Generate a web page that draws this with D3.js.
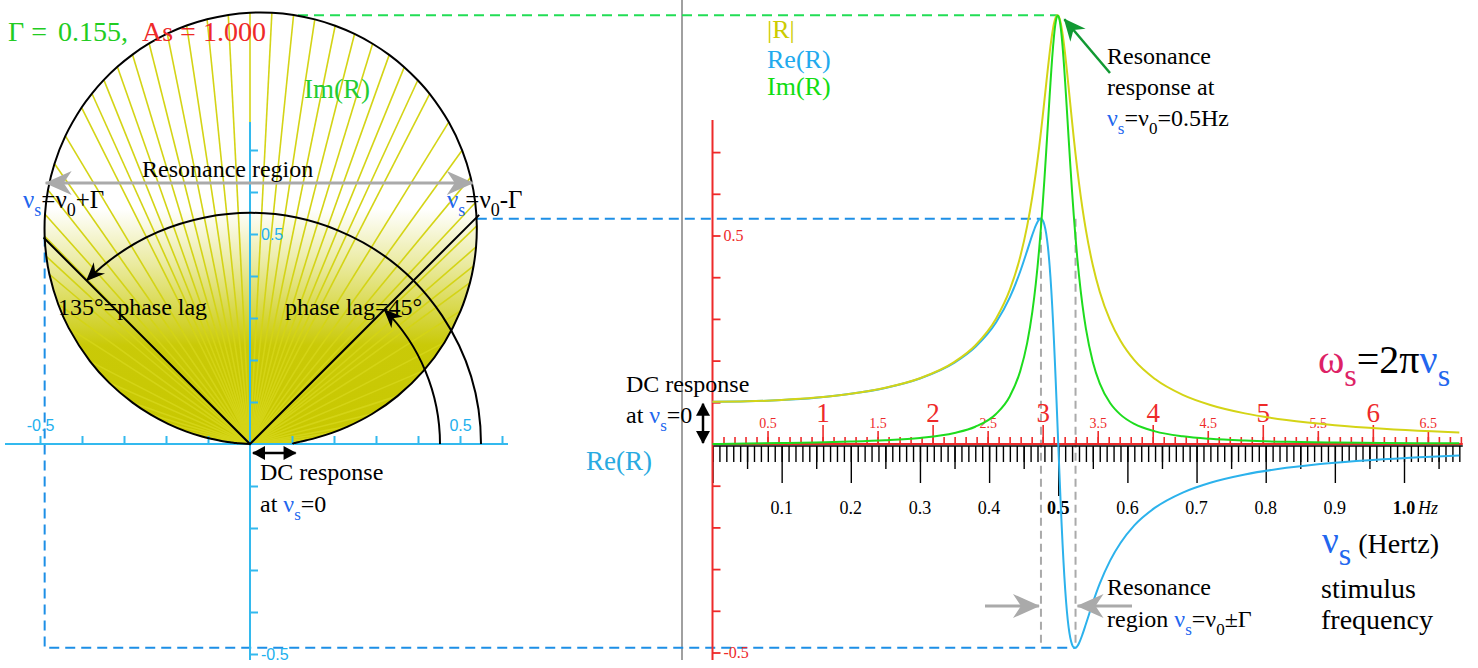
<!DOCTYPE html>
<html>
<head>
<meta charset="utf-8">
<script src="https://cdn.jsdelivr.net/npm/d3@7"></script>
<style>
  body { margin: 0; background: #fff; }
  svg { display: block; }
</style>
</head>
<body>
<svg width="1478" height="668"></svg>
<script>
// stimulus frequency (Hz) of each sample
const nu = [0, 0.05, 0.1, 0.15, 0.2, 0.25, 0.3, 0.35, 0.38, 0.41, 0.43, 0.445, 0.455,
  0.4625, 0.4675, 0.47, 0.4725, 0.475, 0.4775, 0.48, 0.4825, 0.485, 0.4875, 0.48875, 0.49,
  0.49125, 0.4925, 0.49375, 0.495, 0.49625, 0.4975, 0.49875, 0.5, 0.50125, 0.5025, 0.50375,
  0.505, 0.50625, 0.5075, 0.50875, 0.51, 0.51125, 0.5125, 0.515, 0.5175, 0.52, 0.5225,
  0.525, 0.5275, 0.53, 0.535, 0.54, 0.55, 0.56, 0.575, 0.59, 0.61, 0.64, 0.68, 0.72,
  0.77, 0.83, 0.9, 0.97, 1.04, 1.08];
// real part of the response
const reR = [0.1013, 0.1023, 0.1055, 0.1112, 0.1204, 0.1345, 0.1570, 0.1951, 0.2325, 0.2915,
  0.3517, 0.4136, 0.4631, 0.5014, 0.5238, 0.5324, 0.5382, 0.5400, 0.5363, 0.5254, 0.5051,
  0.4732, 0.4278, 0.3995, 0.3674, 0.3315, 0.2919, 0.2489, 0.2028, 0.1543, 0.1038, 0.0521,
  0, -0.0517, -0.1022, -0.1509, -0.1970, -0.2401, -0.2798, -0.3158, -0.3480, -0.3764,
  -0.4010, -0.4395, -0.4655, -0.4810, -0.4881, -0.4889, -0.4850, -0.4777, -0.4567, -0.4318,
  -0.3808, -0.3351, -0.2796, -0.2373, -0.1952, -0.1527, -0.1164, -0.0928, -0.0730, -0.0572,
  -0.0450, -0.0365, -0.0303, -0.0276];
// imaginary part of the response
const imR = [0, 0.0010, 0.0022, 0.0036, 0.0057, 0.0089, 0.0145, 0.0264, 0.0413, 0.0720,
  0.1146, 0.1747, 0.2419, 0.3170, 0.3842, 0.4243, 0.4691, 0.5192, 0.5745, 0.6348, 0.6993,
  0.7664, 0.8336, 0.8661, 0.8973, 0.9265, 0.9530, 0.9763, 0.9959, 1.0110, 1.0214, 1.0267,
  1.0268, 1.0216, 1.0114, 0.9963, 0.9769, 0.9537, 0.9272, 0.8981, 0.8670, 0.8345, 0.8011,
  0.7335, 0.6674, 0.6049, 0.5470, 0.4942, 0.4467, 0.4042, 0.3328, 0.2765, 0.1968, 0.1456,
  0.0984, 0.0704, 0.0480, 0.0302, 0.0184, 0.0123, 0.0081, 0.0053, 0.0036, 0.0025, 0.0019,
  0.0016];
// size |R| of the response
const absR = [0.1013, 0.1023, 0.1055, 0.1113, 0.1205, 0.1348, 0.1576, 0.1969, 0.2362, 0.3003,
  0.3700, 0.4490, 0.5224, 0.5932, 0.6496, 0.6808, 0.7140, 0.7491, 0.7859, 0.8240, 0.8626,
  0.9007, 0.9369, 0.9539, 0.9696, 0.9840, 0.9967, 1.0076, 1.0163, 1.0227, 1.0267, 1.0281,
  1.0268, 1.0229, 1.0165, 1.0077, 0.9966, 0.9834, 0.9685, 0.9520, 0.9342, 0.9154, 0.8958,
  0.8551, 0.8137, 0.7728, 0.7331, 0.6952, 0.6594, 0.6258, 0.5651, 0.5128, 0.4286, 0.3653,
  0.2964, 0.2475, 0.2010, 0.1557, 0.1178, 0.0936, 0.0734, 0.0575, 0.0451, 0.0366, 0.0304,
  0.0276];

// ticks and tick labels
const reTicks = [-0.5, -0.4, -0.3, -0.2, -0.1, 0.1, 0.2, 0.3, 0.4, 0.5, 0.6];
const imTicks = [-0.5, -0.4, -0.3, -0.2, -0.1, 0.1, 0.2, 0.3, 0.4, 0.5, 0.6, 0.7];
const valLabels = ["-0.5", "0.5"];
const omegaInt = [1, 2, 3, 4, 5, 6];
const omegaHalf = [0.5, 1.5, 2.5, 3.5, 4.5, 5.5, 6.5];
const nuMajor = [0.1, 0.2, 0.3, 0.4, 0.5, 0.6, 0.7, 0.8, 0.9, 1.0];
const nuLabels = ["0.1", "0.2", "0.3", "0.4", "0.5", "0.6", "0.7", "0.8", "0.9", "1.0"];

const svg = d3.select("svg");
const serif = '"Liberation Serif", "Times New Roman", serif';
const sans = '"Liberation Sans", Arial, sans-serif';
svg.attr("font-family", serif);

const cAxis = "#33b9ee", cDash = "#1d8fe6", cYel = "#d4d416", cBlue = "#2cb2ec",
  cGreen = "#1edc1e", cRed = "#ee2a2a", cNu = "#2266ee", cGrey = "#aaaaaa";

// scales: left = complex plane, right = response against frequency
const xL = d3.scaleLinear().domain([0, 1]).range([250, 670]);
const yL = d3.scaleLinear().domain([0, 1]).range([444, 24]);
const xR = d3.scaleLinear().domain([0, 1]).range([712.5, 1404]);
const xW = d3.scaleLinear().domain([0, 2 * Math.PI]).range([712.5, 1404]);
const yR = d3.scaleLinear().domain([0, 1]).range([444, 27]);

const iMax = d3.maxIndex(reR), iMin = d3.minIndex(reR), iPk = d3.maxIndex(absR);
const lab = d => valLabels[[-0.5, 0.5].indexOf(d)] || "";

// markers
const defs = svg.append("defs");
function marker(id, d, fill) {
  defs.append("marker").attr("id", id).attr("markerUnits", "userSpaceOnUse")
    .attr("viewBox", "-30 -15 32 30").attr("markerWidth", 32).attr("markerHeight", 30)
    .attr("refX", 0).attr("refY", 0).attr("orient", "auto-start-reverse")
    .append("path").attr("d", d).attr("fill", fill);
}
marker("barbK", "M1,0 L-18,-8 L-12,0 L-18,8 Z", "#000");
marker("triK", "M1,0 L-12,-7 L-12,7 Z", "#000");
marker("barbG", "M1,0 L-26,-12 L-18,0 L-26,12 Z", cGrey);
marker("barbGr", "M1,0 L-21,-10 L-14,0 L-21,10 Z", "#119933");

const grad = defs.append("linearGradient").attr("id", "fanFill")
  .attr("gradientUnits", "userSpaceOnUse")
  .attr("x1", 0).attr("y1", yL(0)).attr("x2", 0).attr("y2", yL(0.56));
[[0, 1], [0.42, 0.97], [0.78, 0.35], [1, 0]].forEach(([o, a]) =>
  grad.append("stop").attr("offset", o).attr("stop-color", "#c8c800").attr("stop-opacity", a));

// text with sub-scripts: parts = [text, colour, isSub, fontSize]
function rich(x, y, size, parts) {
  const t = svg.append("text").attr("x", x).attr("y", y).attr("font-size", size);
  let off = 0;
  parts.forEach(([s, col, sub, fs]) => {
    const want = sub ? Math.round(size * 0.33) : 0;
    const ts = t.append("tspan").text(s).attr("fill", col || "#000");
    if (want !== off) { ts.attr("dy", want - off); off = want; }
    if (fs || sub) ts.attr("font-size", fs || Math.round(size * 0.72));
  });
  return t;
}

// divider
svg.append("line").attr("x1", 682).attr("x2", 682).attr("y1", 0).attr("y2", 660)
  .attr("stroke", "#808080").attr("stroke-width", 1.5);

// ---- connecting dashed lines (under the fan) ----
svg.append("path")
  .attr("d", `M${xL(0)},${yR(absR[iPk])} H${xR(nu[iPk])}`)
  .attr("stroke", "#22dd55").attr("stroke-width", 2).attr("stroke-dasharray", "10,6").attr("fill", "none");
svg.append("path")
  .attr("d", `M${xL(reR[iMax])},${yR(reR[iMax])} H${xR(nu[iMax])}`)
  .attr("stroke", cDash).attr("stroke-width", 2).attr("stroke-dasharray", "10,6").attr("fill", "none");
svg.append("path")
  .attr("d", `M${xL(reR[iMin])},${yL(imR[iMin])} V${yR(reR[iMin])} H${xR(nu[iMin])}`)
  .attr("stroke", cDash).attr("stroke-width", 2).attr("stroke-dasharray", "10,6").attr("fill", "none");

// ---- left: fan of R in the complex plane ----
const idx = d3.range(nu.length);
const nyq = d3.line().x(i => i < 0 ? xL(0) : xL(reR[i])).y(i => i < 0 ? yL(0) : yL(imR[i]))
  .curve(d3.curveCatmullRom);
const nyqD = nyq(idx.concat([-1]));
svg.append("path").attr("d", nyqD + "Z").attr("fill", "#fff");
svg.append("path").attr("d", nyqD + "Z").attr("fill", "url(#fanFill)");
svg.append("g").selectAll("line").data(idx).join("line")
  .attr("x1", xL(0)).attr("y1", yL(0))
  .attr("x2", i => xL(reR[i])).attr("y2", i => yL(imR[i]))
  .attr("stroke", cYel).attr("stroke-width", 1.6);

// blue axes
svg.append("line").attr("x1", 5).attr("x2", 508).attr("y1", yL(0)).attr("y2", yL(0))
  .attr("stroke", cAxis).attr("stroke-width", 2);
svg.append("line").attr("x1", xL(0)).attr("x2", xL(0)).attr("y1", 122).attr("y2", 660)
  .attr("stroke", cAxis).attr("stroke-width", 2);
const gLx = svg.append("g").attr("transform", `translate(0,${yL(0)})`)
  .call(d3.axisTop(xL).tickValues(reTicks).tickSize(8).tickPadding(5).tickFormat(lab));
const gLy = svg.append("g").attr("transform", `translate(${xL(0)},0)`)
  .call(d3.axisRight(yL).tickValues(imTicks).tickSize(8).tickFormat(lab));
[gLx, gLy].forEach(g => {
  g.select(".domain").remove();
  g.attr("font-family", sans).attr("font-size", 16);
  g.selectAll("line").attr("stroke", cAxis).attr("stroke-width", 2);
  g.selectAll("text").attr("fill", "#22b0ee");
});

// outline and phase-lag construction
svg.append("path").attr("d", nyqD).attr("fill", "none").attr("stroke", "#000").attr("stroke-width", 2);
const r45 = absR[iMax] * Math.SQRT1_2 * 1.03, r135 = absR[iMin] * Math.SQRT1_2;
svg.append("path")
  .attr("d", `M${xL(r45)},${yL(r45)} L${xL(0)},${yL(0)} L${xL(-r135)},${yL(r135)}`)
  .attr("fill", "none").attr("stroke", "#000").attr("stroke-width", 2);
function arcD(r, a) {
  const p = d3.path();
  p.arc(xL(0), yL(0), r, 0, -a, true);
  return p.toString();
}
svg.append("path").attr("d", arcD(190, Math.PI / 4)).attr("fill", "none")
  .attr("stroke", "#000").attr("stroke-width", 2).attr("marker-end", "url(#barbK)");
svg.append("path").attr("d", arcD(231, 3 * Math.PI / 4)).attr("fill", "none")
  .attr("stroke", "#000").attr("stroke-width", 2).attr("marker-end", "url(#barbK)");

// resonance region arrow
svg.append("line").attr("x1", xL(reR[iMin]) + 1).attr("x2", xL(reR[iMax]) - 4)
  .attr("y1", 183).attr("y2", 183).attr("stroke", cGrey).attr("stroke-width", 3)
  .attr("marker-start", "url(#barbG)").attr("marker-end", "url(#barbG)");

// DC response arrow
svg.append("line").attr("x1", xL(0) + 3).attr("x2", xL(absR[0]) + 3).attr("y1", 453).attr("y2", 453)
  .attr("stroke", "#000").attr("stroke-width", 2.5)
  .attr("marker-start", "url(#triK)").attr("marker-end", "url(#triK)");

// left texts
const title = svg.append("text").attr("x", 8).attr("y", 41).attr("font-size", 28);
title.append("tspan").attr("fill", "#22cc22").text("Γ = ");
title.append("tspan").attr("x", 58).attr("fill", "#22cc22").text("0.155,");
title.append("tspan").attr("x", 142).attr("fill", cRed).text("As = 1.000");
svg.append("text").attr("x", 304).attr("y", 98).attr("font-size", 27).attr("fill", "#22cc33").text("Im(R)");
svg.append("text").attr("x", 142).attr("y", 177).attr("font-size", 24).text("Resonance region");
rich(23, 208, 25, [["ν", cNu], ["s", cNu, 1], ["=ν"], ["0", null, 1], ["+Γ"]]);
rich(447, 208, 25, [["ν", cNu], ["s", cNu, 1], ["=ν"], ["0", null, 1], ["-Γ"]]);
svg.append("text").attr("x", 58).attr("y", 315).attr("font-size", 24).text("135°=phase lag");
svg.append("text").attr("x", 285).attr("y", 315).attr("font-size", 24).text("phase lag=45°");
svg.append("text").attr("x", 260).attr("y", 480).attr("font-size", 24).text("DC response");
rich(260, 512, 24, [["at "], ["ν", cNu], ["s", cNu, 1], ["=0"]]);
svg.append("text").attr("x", 586).attr("y", 470).attr("font-size", 27).attr("fill", "#29aae1").text("Re(R)");

// ---- right: response against frequency ----
// resonance region guides
svg.append("g").selectAll("line").data([iMax, iMin]).join("line")
  .attr("x1", i => xR(nu[i])).attr("x2", i => xR(nu[i]))
  .attr("y1", yR(reR[iMax])).attr("y2", yR(reR[iMin]))
  .attr("stroke", cGrey).attr("stroke-width", 2).attr("stroke-dasharray", "8,5");

// frequency axis (black, below) and angular axis (red, above)
svg.append("line").attr("x1", xR(0)).attr("x2", xR(1.085)).attr("y1", yR(0) + 2).attr("y2", yR(0) + 2)
  .attr("stroke", "#000").attr("stroke-width", 1.5);
function blackBottom(vals, size) {
  const g = svg.append("g").attr("transform", `translate(0,${yR(0) + 2})`)
    .call(d3.axisBottom(xR).tickValues(vals).tickSize(size).tickFormat(() => ""));
  g.select(".domain").remove();
  g.selectAll("line").attr("stroke", "#000").attr("stroke-width", 1.4);
}
blackBottom(d3.range(0, 109).map(i => i / 100), 16);
blackBottom(d3.range(0, 11).map(i => 0.05 + i / 10), 23);
blackBottom([0].concat(nuMajor.filter(d => d !== 0.5)), 37);
blackBottom([0.5], 50);
svg.append("g").selectAll("text").data(nuMajor).join("text")
  .attr("x", d => xR(d)).attr("y", 514).attr("text-anchor", "middle").attr("font-size", 18)
  .attr("font-weight", d => (d === 0.5 || d === 1) ? "bold" : null)
  .text((d, i) => nuLabels[i]);
svg.append("text").attr("x", xR(1) + 14).attr("y", 514).attr("font-size", 18)
  .attr("font-style", "italic").text("Hz");

svg.append("line").attr("x1", xR(0)).attr("x2", xR(1.085)).attr("y1", yR(0)).attr("y2", yR(0))
  .attr("stroke", cRed).attr("stroke-width", 2);
function redTop(vals, size, fs) {
  const g = svg.append("g").attr("transform", `translate(0,${yR(0)})`)
    .call(d3.axisTop(xW).tickValues(vals).tickSize(size).tickPadding(3).tickFormat(d => fs ? String(d) : ""));
  g.select(".domain").remove();
  g.attr("font-family", serif).attr("font-size", fs || 10);
  g.selectAll("line").attr("stroke", cRed).attr("stroke-width", 1.6);
  g.selectAll("text").attr("fill", cRed);
}
redTop(d3.range(1, 69).map(i => i / 10), 7, 0);
redTop(omegaHalf, 13, 14);
redTop(omegaInt, 19, 27);

// value axis (red)
svg.append("line").attr("x1", xR(0)).attr("x2", xR(0)).attr("y1", 120).attr("y2", 660)
  .attr("stroke", cRed).attr("stroke-width", 2);
const gRy = svg.append("g").attr("transform", `translate(${xR(0)},0)`)
  .call(d3.axisRight(yR).tickValues(imTicks).tickSize(8).tickFormat(lab));
gRy.select(".domain").remove();
gRy.attr("font-family", serif).attr("font-size", 16);
gRy.selectAll("line").attr("stroke", cRed).attr("stroke-width", 1.8);
gRy.selectAll("text").attr("fill", cRed);

// curves
const curve = vals => d3.line().x((d, i) => xR(nu[i])).y(d => yR(d)).curve(d3.curveMonotoneX)(vals);
svg.append("path").attr("d", curve(reR)).attr("fill", "none").attr("stroke", cBlue).attr("stroke-width", 2);
svg.append("path").attr("d", curve(absR)).attr("fill", "none").attr("stroke", cYel).attr("stroke-width", 2);
svg.append("path").attr("d", curve(imR)).attr("fill", "none").attr("stroke", cGreen).attr("stroke-width", 2);

// legend
svg.append("text").attr("x", 767).attr("y", 38).attr("font-size", 26).attr("fill", "#cccc00").text("|R|");
svg.append("text").attr("x", 767).attr("y", 68).attr("font-size", 26).attr("fill", "#22aaee").text("Re(R)");
svg.append("text").attr("x", 767).attr("y", 95).attr("font-size", 26).attr("fill", "#11dd11").text("Im(R)");

// resonance annotation
svg.append("line").attr("x1", 1110).attr("y1", 73)
  .attr("x2", xR(nu[iPk]) + 7).attr("y2", yR(absR[iPk]) + 4)
  .attr("stroke", "#119933").attr("stroke-width", 2.5).attr("marker-end", "url(#barbGr)");
svg.append("text").attr("x", 1107).attr("y", 64).attr("font-size", 24).text("Resonance");
svg.append("text").attr("x", 1107).attr("y", 95).attr("font-size", 24).text("response at");
rich(1107, 126, 24, [["ν", cNu], ["s", cNu, 1], ["=ν"], ["0", null, 1], ["=0.5Hz"]]);

// DC response (right)
svg.append("line").attr("x1", 703).attr("x2", 703).attr("y1", yR(absR[0]) + 2).attr("y2", yR(0) - 1)
  .attr("stroke", "#000").attr("stroke-width", 2.5)
  .attr("marker-start", "url(#triK)").attr("marker-end", "url(#triK)");
svg.append("text").attr("x", 626).attr("y", 392).attr("font-size", 24).text("DC response");
rich(626, 423, 24, [["at "], ["ν", cNu], ["s", cNu, 1], ["=0"]]);

// omega = 2 pi nu
rich(1318, 373, 40, [["ω", "#dd2266"], ["s", "#dd2266", 1, 32], ["=2π"], ["ν", cNu], ["s", cNu, 1, 32]]);

// frequency axis title
rich(1322, 553, 37, [["ν", cNu], ["s", cNu, 1, 32], [" (Hertz)", "#000", 0, 28]]);
svg.append("text").attr("x", 1321).attr("y", 598).attr("font-size", 28).text("stimulus");
svg.append("text").attr("x", 1321).attr("y", 629).attr("font-size", 28).text("frequency");

// resonance region (right)
svg.append("line").attr("x1", 985).attr("x2", xR(nu[iMax]) - 2).attr("y1", 606).attr("y2", 606)
  .attr("stroke", cGrey).attr("stroke-width", 3).attr("marker-end", "url(#barbG)");
svg.append("line").attr("x1", 1132).attr("x2", xR(nu[iMin]) + 2).attr("y1", 606).attr("y2", 606)
  .attr("stroke", cGrey).attr("stroke-width", 3).attr("marker-end", "url(#barbG)");
svg.append("text").attr("x", 1107).attr("y", 595).attr("font-size", 24).text("Resonance");
rich(1107, 627, 24, [["region "], ["ν", cNu], ["s", cNu, 1], ["=ν"], ["0", null, 1], ["±Γ"]]);
</script>
</body>
</html>
